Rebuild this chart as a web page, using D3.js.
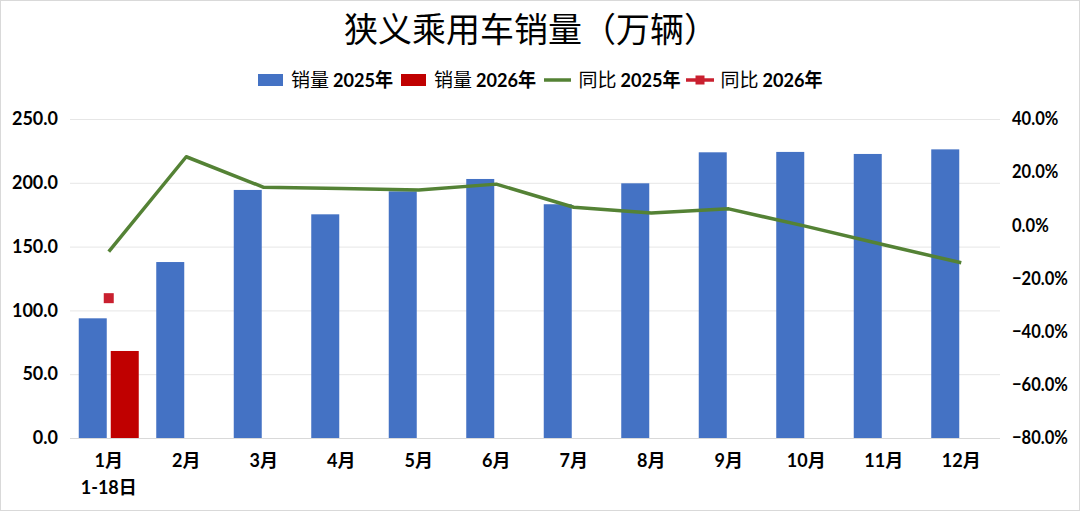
<!DOCTYPE html>
<html><head><meta charset="utf-8">
<script src="https://cdn.jsdelivr.net/npm/d3@7"></script>
<style>
html,body{margin:0;padding:0;background:#fff;}
svg{display:block;}
</style></head>
<body>
<svg id="chart" width="1080" height="511"></svg>
<script>
const months = ["1月","2月","3月","4月","5月","6月","7月","8月","9月","10月","11月","12月"];
const monthSub = ["1-18日","","","","","","","","","","",""];
const sales2025 = [93.8,137.9,194.4,175.3,193.3,203.0,183.2,199.6,223.9,224.2,222.6,226.2];
const sales2026 = [68.2];
const yoy2025 = [-0.099,0.258,0.143,0.139,0.133,0.155,0.068,0.046,0.062,-0.004,-0.073,-0.141];
const yoy2026 = [-0.274];
const leftTicks = [0,50,100,150,200,250];
const rightTicks = [-0.8,-0.6,-0.4,-0.2,0,0.2,0.4];
const legendItems = [
  {cn:"销量", num:"2025年", type:"bar", color:"#4472C4"},
  {cn:"销量", num:"2026年", type:"bar", color:"#C00000"},
  {cn:"同比", num:"2025年", type:"line", color:"#548235"},
  {cn:"同比", num:"2026年", type:"marker", color:"#C9202F"}
];

const svg = d3.select("#chart");
const W = 1080, H = 511;
const M = {left:70, right:1000, top:119, bottom:438};
const numFont = "Lato, 'Noto Sans CJK SC', sans-serif";
const cjkFont = "'Noto Sans CJK SC', sans-serif";

svg.append("rect").attr("x",0.5).attr("y",0.5).attr("width",W-1).attr("height",H-1)
  .attr("fill","#fff").attr("stroke","#d9d9d9");

const x0 = d3.scaleBand().domain(months).range([M.left, M.right]).paddingInner(0).paddingOuter(0);
const bwc = x0.bandwidth();
const x1 = d3.scaleBand().domain(["2025","2026"]).range([bwc/2-30, bwc/2+30]).paddingInner(0.125).paddingOuter(0);
const yL = d3.scaleLinear().domain([0,250]).range([M.bottom, M.top]);
const yR = d3.scaleLinear().domain([-0.8,0.4]).range([M.bottom, M.top]);

// gridlines
svg.append("g").selectAll("line").data(leftTicks).join("line")
  .attr("x1",M.left).attr("x2",M.right)
  .attr("y1",d=>yL(d)+0.5).attr("y2",d=>yL(d)+0.5)
  .attr("stroke",d=>d===0?"#d9d9d9":"#e6e6e6").attr("stroke-width",1);

// left axis
const axL = d3.axisLeft(yL).tickValues(leftTicks).tickFormat(d3.format(".1f")).tickSize(0).tickPadding(12);
const gL = svg.append("g").attr("transform",`translate(${M.left},0)`).call(axL);
gL.select(".domain").remove();
gL.selectAll("text").attr("font-family",numFont).attr("font-weight","bold").attr("font-size","18px").attr("fill","#000");

// right axis
const axR = d3.axisRight(yR).tickValues(rightTicks).tickFormat(d3.format(".1%")).tickSize(0).tickPadding(12);
const gR = svg.append("g").attr("transform",`translate(${M.right},0)`).call(axR);
gR.select(".domain").remove();
gR.selectAll("text").attr("font-family",numFont).attr("font-weight","bold").attr("font-size","18px").attr("fill","#000")
  .each(function(){
    const w = this.getComputedTextLength();
    d3.select(this).attr("textLength", w*0.92).attr("lengthAdjust","spacingAndGlyphs");
  });

// x axis labels
const axX = d3.axisBottom(x0).tickSize(0).tickPadding(16);
const gX = svg.append("g").attr("transform",`translate(0,${M.bottom})`).call(axX);
gX.select(".domain").remove();
gX.selectAll("text").attr("font-family",numFont).attr("font-weight","bold").attr("font-size","18px").attr("fill","#000")
  .each(function(d,i){
    if(monthSub[i]){
      d3.select(this.parentNode).append("text")
        .attr("y",56).attr("text-anchor","middle")
        .attr("font-family",numFont).attr("font-weight","bold").attr("font-size","18px").attr("fill","#000")
        .text(monthSub[i]);
    }
  });

// bars
svg.append("g").selectAll("rect").data(sales2025).join("rect")
  .attr("x",(d,i)=>x0(months[i])+x1("2025"))
  .attr("y",d=>yL(d)).attr("width",x1.bandwidth()).attr("height",d=>yL(0)-yL(d))
  .attr("fill","#4472C4");
svg.append("g").selectAll("rect").data(sales2026).join("rect")
  .attr("x",(d,i)=>x0(months[i])+x1("2026"))
  .attr("y",d=>yL(d)).attr("width",x1.bandwidth()).attr("height",d=>yL(0)-yL(d))
  .attr("fill","#C00000");

// line
const line = d3.line().x((d,i)=>x0(months[i])+bwc/2).y(d=>yR(d));
svg.append("path").datum(yoy2025).attr("d",line)
  .attr("fill","none").attr("stroke","#548235").attr("stroke-width",3.5).attr("stroke-linejoin","round");
svg.append("g").selectAll("rect").data(yoy2026).join("rect")
  .attr("x",(d,i)=>x0(months[i])+bwc/2-5).attr("y",d=>yR(d)-5)
  .attr("width",10).attr("height",10).attr("fill","#C9202F");

// title
svg.append("text").attr("x",531).attr("y",42).attr("text-anchor","middle")
  .attr("font-family",cjkFont).attr("font-size","34px").attr("fill","#000")
  .text("狭义乘用车销量（万辆）");

// legend
const legX = [258, 401, 544, 686];
const lg = svg.append("g");
legendItems.forEach((it,i)=>{
  const g = lg.append("g").attr("transform",`translate(${legX[i]},80)`);
  if(it.type==="bar"){
    g.append("rect").attr("x",0).attr("y",-6).attr("width",25).attr("height",12).attr("fill",it.color);
  } else if(it.type==="line"){
    g.append("line").attr("x1",0).attr("x2",27).attr("y1",0).attr("y2",0).attr("stroke",it.color).attr("stroke-width",3.5);
  } else {
    g.append("line").attr("x1",0).attr("x2",28).attr("y1",0).attr("y2",0).attr("stroke",it.color).attr("stroke-width",3.5);
    g.append("rect").attr("x",9.5).attr("y",-4.5).attr("width",9).attr("height",9).attr("fill",it.color);
  }
  const tx = it.type==="bar" ? 33 : 34.5;
  const t1 = g.append("text").attr("x",tx).attr("y",7).attr("font-size","19px").attr("fill","#000")
    .attr("font-family",cjkFont).text(it.cn);
  const w1 = t1.node().getComputedTextLength();
  const t2 = g.append("text").attr("x",tx+w1+4).attr("y",7).attr("font-size","19px").attr("fill","#000")
    .attr("font-family",numFont).attr("font-weight","bold").text(it.num);
  const w2 = t2.node().getComputedTextLength();
  if (w2 > 60) t2.attr("textLength",60).attr("lengthAdjust","spacingAndGlyphs");
});
</script>
</body></html>
